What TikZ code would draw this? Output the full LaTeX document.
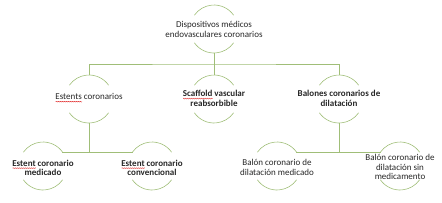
\documentclass[tikz,border=0pt]{standalone}
\usepackage{fontspec}
\setmainfont{Carlito}
\usetikzlibrary{decorations.pathmorphing}
\definecolor{lineg}{RGB}{160,190,120}
\definecolor{sqred}{RGB}{225,50,50}
\newlength\spw
\newcommand\spellmark[1]{\settowidth\spw{#1}\rlap{\tikz[baseline=0pt]{\draw[sqred,line width=0.4pt,decorate,decoration={snake,amplitude=0.4pt,segment length=2pt}](0pt,-1.8pt)--(\spw,-1.8pt);}}#1}
\begin{document}
\begin{tikzpicture}[x=1pt,y=-1pt,
  ring/.style={circle,minimum size=48pt,inner sep=0pt,outer sep=0pt},
  txt/.style={align=center,font=\fontsize{9}{9.6}\selectfont,text=black!85,inner sep=0pt},
  bt/.style={txt,font=\fontsize{9}{9.6}\selectfont\bfseries},
  conn/.style={draw=lineg,line width=0.6pt},
  arcs/.style={draw=lineg,line width=0.6pt}]
\useasboundingbox (0,0) rectangle (442,202);
% circles (invisible) and texts
\node[ring] (root) at (214,29) {};
\node[txt] (troot) at (214,29.5) {Dispositivos médicos\\endovasculares coronarios};
\node[ring] (est) at (89,99) {};
\node[txt] (test) at (89,98) {\spellmark{Estents} coronarios};
\node[ring] (sca) at (214,99) {};
\node[bt] (tsca) at (214,98.5) {\spellmark{Scaffold} vascular\\reabsorbible};
\node[ring] (bal) at (339,99) {};
\node[bt] (tbal) at (339,98.5) {Balones coronarios de\\dilatación};
\node[ring] (med) at (43,166) {};
\node[bt] (tmed) at (43,168) {\spellmark{Estent} coronario\\medicado};
\node[ring] (con) at (152,166) {};
\node[bt] (tcon) at (152,168) {\spellmark{Estent} coronario\\convencional};
\node[ring] (bmed) at (277,166) {};
\node[txt] (tbmed) at (277,167.5) {Balón coronario de\\dilatación medicado};
\node[ring] (bsin) at (400,166) {};
\node[txt] (tbsin) at (400,167) {Balón coronario de\\dilatación sin\\medicamento};
% arcs
\foreach \n in {root,est,sca,bal,med,con,bmed,bsin}{
  \draw[arcs] (\n.35) arc[start angle=35,end angle=145,radius=24pt];
  \draw[arcs] (\n.215) arc[start angle=215,end angle=325,radius=24pt];
}
% connectors
\coordinate (hub) at (214,64);
\draw[conn] (root.south) -- (hub);
\draw[conn] (est.north) |- (hub) -| (bal.north);
\draw[conn] (hub) -- (sca.north);
\draw[conn] (med.36) -- (con.144);
\draw[conn] (est.south) -- (est.south |- med.36);
\draw[conn] (bmed.36) -- (bsin.144);
\draw[conn] (bal.south) -- (bal.south |- bmed.36);
\end{tikzpicture}
\end{document}
